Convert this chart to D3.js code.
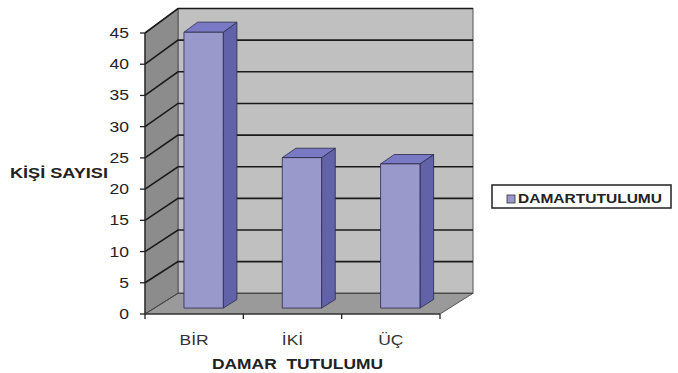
<!DOCTYPE html>
<html><head><meta charset="utf-8">
<script src="https://cdn.jsdelivr.net/npm/d3@7"></script>
<style>body{margin:0;background:#fff}svg{display:block}</style>
</head><body>
<script>
const categories = ["BİR", "İKİ", "ÜÇ"];
const values = [44, 24, 23];
const yTicks = [0, 5, 10, 15, 20, 25, 30, 35, 40, 45];
const seriesName = "DAMARTUTULUMU";
const yTitle = "KİŞİ SAYISI";
const xTitle = "DAMAR  TUTULUMU";

const W = 678, H = 373;
const svg = d3.select("body").append("svg").attr("width", W).attr("height", H);
const font = "'Liberation Sans', Arial, sans-serif";

// front and back planes
const xFront = d3.scaleBand().domain(categories).range([145, 440]).paddingInner(0.6).paddingOuter(0.3);
const xFrontLin = d3.scaleLinear().domain([0, 1]).range([145, 440]);
const dxBack = 33;
const yFront = d3.scaleLinear().domain([0, 45]).range([314, 33]);
const yBack = d3.scaleLinear().domain([0, 45]).range([293.3, 8.5]);
const lerp = (a, b, t) => a + (b - a) * t;
const P = (xf, v, f) => [xf + dxBack * f, lerp(yFront(v), yBack(v), f)];
const vmax = 45;

// back wall
const bwTL = P(xFrontLin(0), vmax, 1), bwBR = P(xFrontLin(1), 0, 1);
svg.append("rect").attr("x", bwTL[0]).attr("y", bwTL[1])
  .attr("width", bwBR[0] - bwTL[0]).attr("height", bwBR[1] - bwTL[1])
  .attr("fill", "#c0c0c0").attr("stroke", "#555").attr("stroke-width", 1);

// left wall
const lw = [P(145, 0, 0), P(145, vmax, 0), P(145, vmax, 1), P(145, 0, 1)];
svg.append("polygon").attr("points", lw.map(p => p.join(",")).join(" "))
  .attr("fill", "#8c8c8c").attr("stroke", "#555").attr("stroke-width", 1);

// floor
const fl = [P(145, 0, 0), P(440, 0, 0), P(440, 0, 1), P(145, 0, 1)];
svg.append("polygon").attr("points", fl.map(p => p.join(",")).join(" "))
  .attr("fill", "#9a9a9a").attr("stroke", "#555").attr("stroke-width", 1);

// gridlines
yTicks.forEach(v => {
  if (v === 0) return;
  const a = P(145, v, 0), b = P(145, v, 1), c = P(440, v, 1);
  svg.append("polyline").attr("points", [a, b, c].map(p => p.join(",")).join(" "))
    .attr("fill", "none").attr("stroke", "#1a1a1a").attr("stroke-width", 1.6);
});
// floor back edge line
{
  const a = P(145, 0, 0), b = P(145, 0, 1), c = P(440, 0, 1);
  svg.append("polyline").attr("points", [a, b, c].map(p => p.join(",")).join(" "))
    .attr("fill", "none").attr("stroke", "#444").attr("stroke-width", 1);
}

// bars
const f1 = 0.286, f2 = 0.70;
values.forEach((v, i) => {
  const c = categories[i];
  const x0 = xFront(c), x1 = x0 + xFront.bandwidth();
  const A = P(x0, 0, f1), B = P(x1, 0, f1), C = P(x1, v, f1), D = P(x0, v, f1);
  const B2 = P(x1, 0, f2), C2 = P(x1, v, f2), D2 = P(x0, v, f2);
  const g = svg.append("g").attr("stroke", "#2a2a4a").attr("stroke-width", 0.8).attr("stroke-linejoin", "round");
  g.append("polygon").attr("points", [B, B2, C2, C].map(p => p.join(",")).join(" ")).attr("fill", "#6262a8");
  g.append("polygon").attr("points", [D, C, C2, D2].map(p => p.join(",")).join(" ")).attr("fill", "#7a7ac4");
  g.append("polygon").attr("points", [A, B, C, D].map(p => p.join(",")).join(" ")).attr("fill", "#9999cc");
});

// axis lines
svg.append("line").attr("x1", 145).attr("x2", 145).attr("y1", yFront(0)).attr("y2", yFront(45))
  .attr("stroke", "#222").attr("stroke-width", 1.2);
svg.append("line").attr("x1", 145).attr("x2", 440).attr("y1", yFront(0)).attr("y2", yFront(0))
  .attr("stroke", "#222").attr("stroke-width", 1.2);

// y ticks & labels
yTicks.forEach(v => {
  const y = yFront(v);
  svg.append("line").attr("x1", 140).attr("x2", 145).attr("y1", y).attr("y2", y).attr("stroke", "#222").attr("stroke-width", 1.3);
  svg.append("text").attr("transform", `translate(129,${y + 5}) scale(1.25,1)`)
    .attr("text-anchor", "end").attr("font-family", font).attr("font-size", 14).attr("fill", "#222").text(v);
});
// x ticks
[0, 1, 2, 3].forEach(k => {
  const x = 145 + k * xFront.step();
  svg.append("line").attr("x1", x).attr("x2", x).attr("y1", yFront(0)).attr("y2", yFront(0) + 5).attr("stroke", "#222").attr("stroke-width", 1.3);
});
categories.forEach(c => {
  svg.append("text").attr("transform", `translate(${xFront(c) + xFront.bandwidth() / 2},345) scale(1.25,1)`)
    .attr("text-anchor", "middle").attr("font-family", font).attr("font-size", 14).attr("fill", "#333").text(c);
});

// titles
svg.append("text").attr("x", 10).attr("y", 178).attr("font-family", font).attr("font-weight", "bold")
  .attr("font-size", 14).attr("fill", "#222").attr("textLength", 98).attr("lengthAdjust", "spacingAndGlyphs").text(yTitle);
svg.append("text").attr("x", 212).attr("y", 369).attr("font-family", font).attr("font-weight", "bold")
  .attr("font-size", 14).attr("fill", "#222").attr("textLength", 171).attr("lengthAdjust", "spacingAndGlyphs")
  .attr("xml:space", "preserve").style("white-space", "pre").text(xTitle);

// legend
svg.append("rect").attr("x", 492).attr("y", 185).attr("width", 179).attr("height", 23)
  .attr("fill", "#fff").attr("stroke", "#222").attr("stroke-width", 1.5);
svg.append("rect").attr("x", 507).attr("y", 195).attr("width", 8).attr("height", 8)
  .attr("fill", "#9999cc").attr("stroke", "#333").attr("stroke-width", 0.8);
svg.append("text").attr("x", 518).attr("y", 203).attr("font-family", font).attr("font-weight", "bold")
  .attr("font-size", 12).attr("fill", "#222").attr("textLength", 144).attr("lengthAdjust", "spacingAndGlyphs").text(seriesName);
</script>
</body></html>
